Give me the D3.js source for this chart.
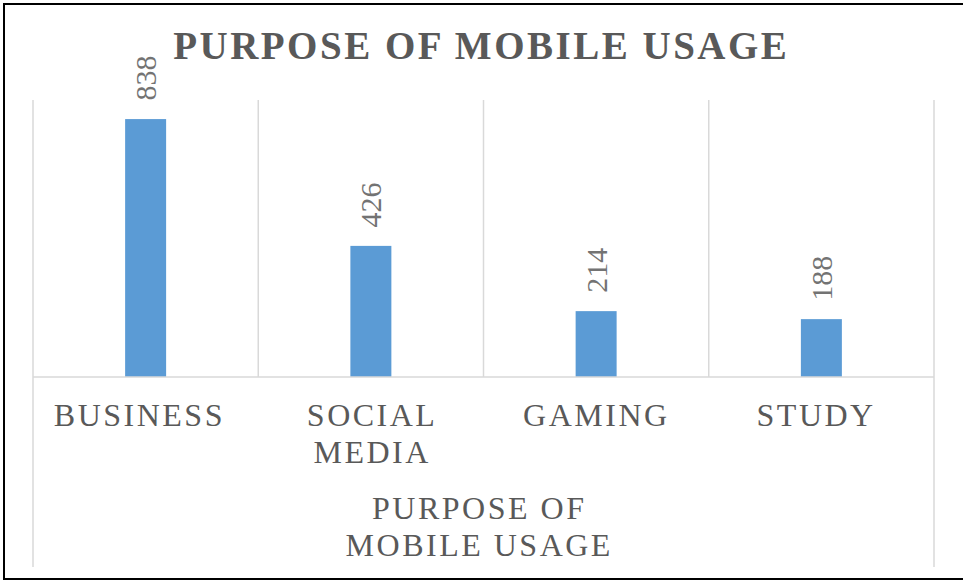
<!DOCTYPE html>
<html>
<head>
<meta charset="utf-8">
<script src="https://cdn.jsdelivr.net/npm/d3@7/dist/d3.min.js"></script>
<style>
  html, body { margin: 0; padding: 0; background: #ffffff; }
  svg { display: block; }
  text { font-family: "Liberation Serif", "Times New Roman", serif; fill: #595959; }
</style>
</head>
<body>
<svg id="chart" width="963" height="581"></svg>
<script>
// Chart data
const categories = ["BUSINESS", "SOCIAL MEDIA", "GAMING", "STUDY"];
const categoryLines = [["BUSINESS"], ["SOCIAL", "MEDIA"], ["GAMING"], ["STUDY"]];
const values = [838, 426, 214, 188];
const chartTitle = "PURPOSE OF MOBILE USAGE";
const axisTitleLines = ["PURPOSE OF", "MOBILE USAGE"];

// Horizontal nudge of each category label inside its label box
const labelNudge = [-7.5, 0, -1, -6.5];

const svg = d3.select("#chart");

// Frame around the chart
svg.append("rect")
  .attr("x", 4).attr("y", 4)
  .attr("width", 980).attr("height", 575)
  .attr("fill", "none")
  .attr("stroke", "#000")
  .attr("stroke-width", 2);

const plot = { left: 33, right: 934, top: 100, bottom: 377 };
const axisBottomExtent = 567;

const x = d3.scaleBand()
  .domain(categories)
  .range([plot.left, plot.right])
  .paddingInner(0.818)
  .paddingOuter(0.409);

const y = d3.scaleLinear()
  .domain([0, 900])
  .range([plot.bottom, plot.top]);

const step = x.step();
const gridColor = "#d9d9d9";

// Category separators: inner ones stop at the baseline, outer ones run through the label area
const bounds = categories.map(c => x(c) + x.bandwidth() / 2 - step / 2);
bounds.push(plot.right);
svg.append("g").selectAll("line")
  .data(bounds)
  .join("line")
  .attr("x1", d => d).attr("x2", d => d)
  .attr("y1", plot.top)
  .attr("y2", (d, i) => (i === 0 || i === bounds.length - 1) ? axisBottomExtent : plot.bottom)
  .attr("stroke", gridColor)
  .attr("stroke-width", 1.5);

// Bars
svg.append("g").selectAll("rect")
  .data(values)
  .join("rect")
  .attr("x", (d, i) => x(categories[i]))
  .attr("y", d => y(d))
  .attr("width", x.bandwidth())
  .attr("height", d => y(0) - y(d))
  .attr("fill", "#5b9bd5");

// Baseline
svg.append("line")
  .attr("x1", plot.left).attr("x2", plot.right)
  .attr("y1", y(0)).attr("y2", y(0))
  .attr("stroke", gridColor)
  .attr("stroke-width", 1.5);

// Rotated value labels above each bar
svg.append("g").selectAll("text")
  .data(values)
  .join("text")
  .attr("transform", (d, i) => {
    const cx = x(categories[i]) + x.bandwidth() / 2;
    return `translate(${cx + 10.5},${y(d) - 18.5}) rotate(-90)`;
  })
  .attr("text-anchor", "start")
  .style("font-size", "30px")
  .style("fill", "#737373")
  .text(d => d);

// Category labels
const ls = 2.5;
const catG = svg.append("g");
categoryLines.forEach((lines, i) => {
  const cx = x(categories[i]) + x.bandwidth() / 2 + ls / 2 + labelNudge[i];
  lines.forEach((line, j) => {
    catG.append("text")
      .attr("x", cx)
      .attr("y", 426 + j * 37)
      .attr("text-anchor", "middle")
      .style("font-size", "32px")
      .style("letter-spacing", ls + "px")
      .text(line);
  });
});

// Axis title
axisTitleLines.forEach((line, j) => {
  svg.append("text")
    .attr("x", 478 + ls / 2)
    .attr("y", 519 + j * 37)
    .attr("text-anchor", "middle")
    .style("font-size", "32px")
    .style("letter-spacing", ls + "px")
    .text(line);
});

// Chart title
svg.append("text")
  .attr("x", 480 + 1.25)
  .attr("y", 59)
  .attr("text-anchor", "middle")
  .style("font-size", "39px")
  .style("font-weight", "bold")
  .style("letter-spacing", "2.5px")
  .text(chartTitle);
</script>
</body>
</html>
